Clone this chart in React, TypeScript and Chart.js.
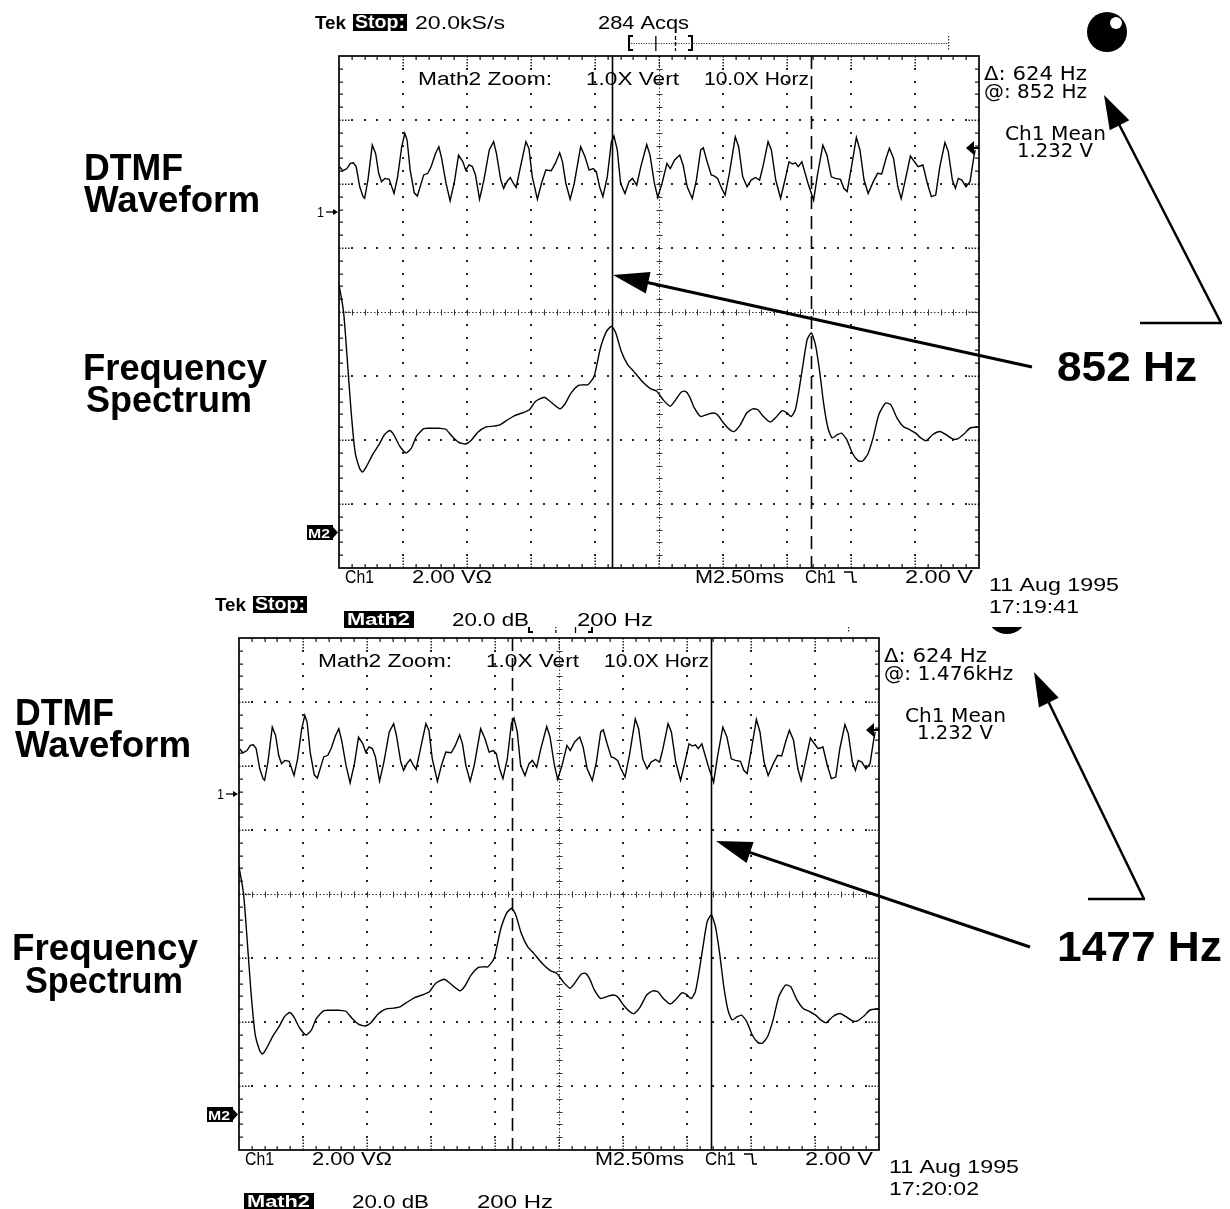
import React, { useEffect, useRef } from "react";
import { Chart, registerables } from "chart.js";

Chart.register(...registerables);

const PAGE_W = 1230;
const PAGE_H = 1209;
const SCREEN_W = 640;
const SCREEN_H = 512;

// Ch1 DTMF waveform: time in ms (2.50 ms/div), level in volts (2.00 V/div)
const waveTimeMs = [
  0.02, 0.15, 0.31, 0.44, 0.56, 0.67, 0.81, 0.94, 1.0, 1.13,
  1.3, 1.43, 1.55, 1.66, 1.79, 1.96, 2.15, 2.29, 2.45, 2.57,
  2.66, 2.78, 2.94, 3.06, 3.19, 3.31, 3.47, 3.6, 3.77, 3.9,
  4.01, 4.18, 4.34, 4.51, 4.67, 4.84, 4.95, 5.08, 5.21, 5.33,
  5.49, 5.66, 5.87, 6.04, 6.15, 6.32, 6.43, 6.56, 6.69, 6.81,
  6.92, 7.09, 7.3, 7.42, 7.55, 7.75, 7.91, 8.08, 8.29, 8.45,
  8.62, 8.73, 8.86, 9.03, 9.19, 9.44, 9.61, 9.77, 9.93, 10.05,
  10.18, 10.31, 10.48, 10.64, 10.74, 10.87, 11.0, 11.17, 11.33, 11.46,
  11.63, 11.79, 12.02, 12.15, 12.32, 12.45, 12.62, 12.81, 12.94, 13.11,
  13.31, 13.44, 13.6, 13.8, 13.96, 14.13, 14.23, 14.38, 14.54, 14.65,
  14.79, 14.92, 15.08, 15.25, 15.48, 15.61, 15.77, 15.94, 16.1, 16.27,
  16.43, 16.56, 16.76, 16.89, 17.06, 17.25, 17.42, 17.58, 17.71, 17.83,
  17.94, 18.08, 18.32, 18.54, 18.7, 18.9, 19.06, 19.23, 19.39, 19.59,
  19.72, 19.85, 20.02, 20.21, 20.35, 20.51, 20.67, 20.87, 21.04, 21.2,
  21.37, 21.5, 21.66, 21.83, 21.96, 22.12, 22.32, 22.48, 22.62, 22.81,
  22.98, 23.14, 23.31, 23.47, 23.67, 23.8, 23.96, 24.08, 24.19, 24.33,
  24.49, 24.65, 24.79, 24.85,
];
const waveVolts = [
  1.45, 1.32, 1.39, 1.55, 1.57, 1.45, 0.82, 0.51, 0.46, 1.03,
  2.12, 1.86, 1.24, 0.98, 1.08, 1.05, 0.61, 1.13, 2.07, 2.49,
  2.28, 1.34, 0.63, 0.53, 0.87, 1.19, 1.24, 1.45, 1.86, 2.07,
  1.71, 0.93, 0.38, 0.98, 1.81, 1.6, 1.34, 1.5, 1.45, 1.19,
  0.43, 1.03, 1.97, 2.23, 1.86, 1.03, 0.77, 0.98, 1.11, 0.93,
  0.8, 1.45, 2.23, 2.02, 1.13, 0.43, 0.93, 1.34, 1.32, 1.55,
  1.88, 1.6, 0.93, 0.43, 0.93, 2.07, 1.76, 1.34, 1.39, 1.29,
  0.82, 0.51, 1.13, 2.23, 2.4, 1.97, 0.93, 0.61, 0.98, 1.08,
  0.87, 1.45, 2.14, 1.81, 0.93, 0.49, 0.93, 1.55, 1.39, 1.66,
  1.81, 1.5, 0.82, 0.45, 1.03, 1.97, 2.04, 1.6, 1.19, 1.16,
  1.08, 0.82, 0.56, 1.24, 2.38, 2.07, 1.13, 0.82, 1.03, 1.11,
  1.03, 1.45, 2.23, 1.97, 1.03, 0.46, 1.03, 1.6, 1.53, 1.57,
  1.45, 1.6, 0.93, 0.4, 1.24, 2.12, 1.81, 1.13, 1.08, 1.05,
  0.77, 0.67, 1.45, 2.36, 1.97, 1.03, 0.61, 0.98, 1.24, 1.22,
  1.71, 2.02, 1.71, 0.82, 0.45, 1.03, 1.78, 1.6, 1.45, 1.5,
  0.93, 0.51, 0.56, 1.45, 2.2, 1.92, 1.03, 0.77, 1.08, 1.03,
  0.82, 0.98, 1.71, 1.97,
];

// Math2 FFT: frequency in Hz (200 Hz/div), magnitude in dB above the M2 marker (20 dB/div)
const specFreqHz = [
  0, 14, 24, 37, 50, 64, 73, 86, 105, 125,
  142, 158, 171, 190, 210, 226, 242, 265, 288, 314,
  334, 353, 373, 395, 412, 434, 458, 484, 503, 523,
  549, 573, 595, 614, 641, 660, 690, 706, 725, 748,
  765, 778, 797, 817, 836, 852, 865, 882, 902, 921,
  947, 973, 993, 1013, 1035, 1052, 1069, 1082, 1095, 1111,
  1130, 1150, 1169, 1182, 1202, 1221, 1234, 1254, 1274, 1293,
  1309, 1326, 1348, 1365, 1385, 1400, 1413, 1426, 1437, 1450,
  1463, 1476, 1489, 1502, 1515, 1528, 1541, 1557, 1570, 1587,
  1604, 1622, 1635, 1652, 1669, 1687, 1708, 1724, 1744, 1763,
  1783, 1802, 1818, 1835, 1855, 1878, 1897, 1917, 1933, 1953,
  1972, 2000,
];
const specDb = [
  77.3, 69.0, 56.5, 38.7, 25.2, 20.0, 18.7, 20.5, 24.2, 27.3,
  30.4, 31.7, 30.4, 26.8, 24.7, 26.2, 29.9, 32.3, 32.4, 32.4,
  32.1, 29.9, 28.1, 27.5, 28.5, 31.2, 32.8, 33.1, 33.5, 34.8,
  36.4, 37.2, 38.2, 40.8, 42.1, 40.8, 38.5, 40.0, 43.4, 45.8,
  46.0, 46.0, 48.6, 57.5, 62.7, 64.3, 62.2, 56.5, 52.3, 50.2,
  47.1, 44.8, 44.0, 41.3, 39.3, 41.3, 43.7, 44.0, 42.4, 38.7,
  36.1, 36.7, 37.2, 36.7, 34.0, 32.0, 31.4, 33.5, 37.2, 38.5,
  38.2, 36.1, 34.4, 35.8, 37.9, 37.2, 36.1, 38.2, 44.0, 52.3,
  60.1, 62.2, 58.5, 50.2, 39.8, 32.5, 29.4, 30.4, 30.9, 28.8,
  24.7, 22.3, 22.1, 24.2, 29.4, 36.7, 40.3, 39.8, 35.6, 33.0,
  32.0, 30.9, 29.4, 28.5, 30.4, 31.4, 30.4, 29.1, 29.1, 30.6,
  32.5, 32.9,
];

// cursor frequencies (Hz): 852 Hz row tone, 1476 Hz column tone
const cursorFreqsHz = [852, 1476];

// screen scales: 10 x 8 divisions
const timeSpanMs = 25; // 2.50 ms/div
const freqSpanHz = 2000; // 200 Hz/div
const voltsPerDiv = 2;
const dbPerDiv = 20;
const ch1GroundDiv = 5.547; // "1->" marker, divisions above bottom
const m2RefDiv = 0.5625; // "M2" marker, divisions above bottom

const TEK = '"Liberation Sans", Arial, sans-serif';
const READ = '"DejaVu Sans", "Liberation Sans", sans-serif';
const LABEL = '"Liberation Sans", Arial, Helvetica, sans-serif';

type Label = { text: string; x: number; y: number; w: number; size: number };
type Arrow = { from: [number, number]; to: [number, number]; hl: number; hw: number; lw: number };

type ScopeCfg = {
  left: number;
  top: number;
  solidHz: number;
  dashedHz: number;
  atText: string;
  atW: number;
  time: string;
  labels: Label[];
  arrows: Arrow[];
  lines: number[][];
  cover: boolean;
};

const topScope: ScopeCfg = {
  left: 339,
  top: 56,
  solidHz: cursorFreqsHz[0],
  dashedHz: cursorFreqsHz[1],
  atText: "@: 852 Hz",
  atW: 103,
  time: "17:19:41",
  labels: [
    { text: "DTMF", x: 84, y: 180, w: 99, size: 36 },
    { text: "Waveform", x: 84, y: 212, w: 176, size: 36 },
    { text: "Frequency", x: 83, y: 380, w: 184, size: 36 },
    { text: "Spectrum", x: 86, y: 412, w: 166, size: 36 },
    { text: "852 Hz", x: 1057, y: 381, w: 140, size: 43 },
  ],
  arrows: [
    { from: [1032, 367], to: [613, 275], hl: 36, hw: 22, lw: 3 },
    { from: [1221, 323], to: [1104, 95], hl: 34, hw: 22, lw: 2.5 },
  ],
  lines: [[1140, 323, 1222, 323]],
  cover: true,
};

const bottomScope: ScopeCfg = {
  left: 239,
  top: 638,
  solidHz: cursorFreqsHz[1],
  dashedHz: cursorFreqsHz[0],
  atText: "@: 1.476kHz",
  atW: 129,
  time: "17:20:02",
  labels: [
    { text: "DTMF", x: 15, y: 725, w: 99, size: 36 },
    { text: "Waveform", x: 15, y: 757, w: 176, size: 36 },
    { text: "Frequency", x: 12, y: 960, w: 186, size: 36 },
    { text: "Spectrum", x: 25, y: 993, w: 158, size: 36 },
    { text: "1477 Hz", x: 1057, y: 961, w: 165, size: 43 },
  ],
  arrows: [
    { from: [1030, 947], to: [716, 841], hl: 36, hw: 22, lw: 3 },
    { from: [1144, 899], to: [1034, 672], hl: 34, hw: 22, lw: 2.5 },
  ],
  lines: [[1088, 899, 1145, 899]],
  cover: false,
};

function fitText(
  ctx: CanvasRenderingContext2D,
  text: string,
  x: number,
  y: number,
  font: string,
  width?: number,
  color = "#000"
) {
  ctx.save();
  ctx.font = font;
  ctx.fillStyle = color;
  ctx.textAlign = "left";
  ctx.textBaseline = "alphabetic";
  const m = ctx.measureText(text).width;
  ctx.translate(x, y);
  if (width && m > 0) ctx.scale(width / m, 1);
  ctx.fillText(text, 0, 0);
  ctx.restore();
}

function drawArrow(ctx: CanvasRenderingContext2D, a: Arrow) {
  const [x1, y1] = a.from;
  const [x2, y2] = a.to;
  const ang = Math.atan2(y2 - y1, x2 - x1);
  const c = Math.cos(ang);
  const s = Math.sin(ang);
  const bx = x2 - a.hl * c;
  const by = y2 - a.hl * s;
  ctx.save();
  ctx.strokeStyle = "#000";
  ctx.fillStyle = "#000";
  ctx.lineWidth = a.lw;
  ctx.beginPath();
  ctx.moveTo(x1, y1);
  ctx.lineTo(bx + 2 * c, by + 2 * s);
  ctx.stroke();
  ctx.beginPath();
  ctx.moveTo(x2, y2);
  ctx.lineTo(bx + (a.hw / 2) * s, by - (a.hw / 2) * c);
  ctx.lineTo(bx - (a.hw / 2) * s, by + (a.hw / 2) * c);
  ctx.closePath();
  ctx.fill();
  ctx.restore();
}

function drawGraticule(ctx: CanvasRenderingContext2D, area: any) {
  const L = area.left, T = area.top, R = area.right, B = area.bottom;
  const dx = (R - L) / 10;
  const dy = (B - T) / 8;
  ctx.save();
  ctx.fillStyle = "#222";
  const dot = (x: number, y: number) => ctx.fillRect(Math.round(x) - 1, Math.round(y) - 1, 2, 2);
  for (let i = 1; i < 10; i++) {
    if (i === 5) continue;
    const x = L + i * dx;
    for (let j = 1; j < 40; j++) dot(x, T + (j * dy) / 5);
  }
  for (let k = 1; k < 8; k++) {
    if (k === 4) continue;
    const y = T + k * dy;
    for (let j = 1; j < 50; j++) dot(L + (j * dx) / 5, y);
  }
  // center lines
  const cx = Math.round(L + 5 * dx) + 0.5;
  const cy = Math.round(T + 4 * dy) + 0.5;
  ctx.strokeStyle = "#333";
  ctx.lineWidth = 1;
  ctx.setLineDash([1.5, 2]);
  ctx.beginPath();
  ctx.moveTo(cx, T);
  ctx.lineTo(cx, B);
  ctx.moveTo(L, cy);
  ctx.lineTo(R, cy);
  ctx.stroke();
  ctx.setLineDash([]);
  ctx.beginPath();
  for (let j = 1; j < 40; j++) {
    const y = Math.round(T + (j * dy) / 5) + 0.5;
    ctx.moveTo(cx - 3, y);
    ctx.lineTo(cx + 3, y);
  }
  for (let j = 1; j < 50; j++) {
    const x = Math.round(L + (j * dx) / 5) + 0.5;
    ctx.moveTo(x, cy - 3);
    ctx.lineTo(x, cy + 3);
  }
  ctx.stroke();
  // border ticks
  ctx.fillStyle = "#222";
  for (let j = 1; j < 50; j++) {
    const x = Math.round(L + (j * dx) / 5);
    if (j % 5 === 0) {
      for (let t = 0; t <= 9; t += 3) {
        ctx.fillRect(x - 0.5, T + t, 1.5, 1.5);
        ctx.fillRect(x - 0.5, B - t - 1.5, 1.5, 1.5);
      }
    } else {
      ctx.fillRect(x - 0.5, T, 1.3, 4);
      ctx.fillRect(x - 0.5, B - 4, 1.3, 4);
    }
  }
  for (let j = 1; j < 40; j++) {
    const y = Math.round(T + (j * dy) / 5);
    if (j % 5 === 0) {
      for (let t = 0; t <= 9; t += 3) {
        ctx.fillRect(L + t, y - 0.5, 1.5, 1.5);
        ctx.fillRect(R - t - 1.5, y - 0.5, 1.5, 1.5);
      }
    } else {
      ctx.fillRect(L, y - 0.5, 4, 1.3);
      ctx.fillRect(R - 4, y - 0.5, 4, 1.3);
    }
  }
  ctx.strokeStyle = "#000";
  ctx.lineWidth = 1.7;
  ctx.strokeRect(L, T, R - L, B - T);
  ctx.restore();
}

function drawAnnotations(ctx: CanvasRenderingContext2D, L: number, T: number, cfg: ScopeCfg) {
  const R = L + SCREEN_W;
  const B = T + SCREEN_H;
  ctx.save();
  ctx.fillStyle = "#000";
  ctx.strokeStyle = "#000";

  // header row
  fitText(ctx, "Tek", L - 24, T - 27, `bold 19px ${TEK}`, 31);
  ctx.fillStyle = "#000";
  ctx.fillRect(L + 14, T - 42, 54, 17);
  fitText(ctx, "Stop:", L + 16, T - 28, `bold 18px ${TEK}`, 50, "#fff");
  fitText(ctx, "20.0kS/s", L + 76, T - 27, `19px ${TEK}`, 90);
  fitText(ctx, "284 Acqs", L + 259, T - 27, `19px ${TEK}`, 91);

  // record view bracket
  const by0 = T - 20, by1 = T - 6, bym = T - 13;
  ctx.lineWidth = 2;
  ctx.beginPath();
  ctx.moveTo(L + 294, by0);
  ctx.lineTo(L + 290, by0);
  ctx.lineTo(L + 290, by1);
  ctx.lineTo(L + 294, by1);
  ctx.moveTo(L + 349, by0);
  ctx.lineTo(L + 353, by0);
  ctx.lineTo(L + 353, by1);
  ctx.lineTo(L + 349, by1);
  ctx.stroke();
  ctx.fillStyle = "#333";
  for (let x = L + 292; x < L + 609; x += 2.5) ctx.fillRect(x, bym, 1.2, 1);
  for (let y = by0; y <= by1; y += 3) ctx.fillRect(L + 609, y, 1.2, 1.5);
  const solidTick = L + 290 + (cfg.solidHz / freqSpanHz) * 63;
  const dashTick = L + 290 + (cfg.dashedHz / freqSpanHz) * 63;
  ctx.lineWidth = 1.3;
  ctx.beginPath();
  ctx.moveTo(solidTick, by0);
  ctx.lineTo(solidTick, by1 + 1);
  ctx.stroke();
  ctx.setLineDash([4, 2]);
  ctx.beginPath();
  ctx.moveTo(dashTick, by0);
  ctx.lineTo(dashTick, by1 + 1);
  ctx.stroke();
  ctx.setLineDash([]);

  // in-screen header
  fitText(ctx, "Math2 Zoom:", L + 79, T + 29, `18px ${TEK}`, 134);
  fitText(ctx, "1.0X Vert", L + 247, T + 29, `18px ${TEK}`, 93);
  fitText(ctx, "10.0X Horz", L + 365, T + 29, `18px ${TEK}`, 105);

  // right-hand readouts
  fitText(ctx, "\u0394: 624 Hz", L + 645, T + 24, `19px ${READ}`, 103);
  fitText(ctx, cfg.atText, L + 645, T + 42, `19px ${READ}`, cfg.atW);
  fitText(ctx, "Ch1 Mean", L + 666, T + 84, `19px ${READ}`, 101);
  fitText(ctx, "1.232 V", L + 678, T + 101, `19px ${READ}`, 76);

  // ball
  ctx.fillStyle = "#000";
  ctx.beginPath();
  ctx.arc(L + 768, T - 24, 20, 0, Math.PI * 2);
  ctx.fill();
  ctx.fillStyle = "#fff";
  ctx.beginPath();
  ctx.arc(L + 777, T - 33, 6, 0, Math.PI * 2);
  ctx.fill();
  ctx.fillStyle = "#000";

  // bottom readout row
  fitText(ctx, "Ch1", L + 6, T + 527, `18px ${TEK}`, 29);
  fitText(ctx, "2.00 V\u03A9", L + 73, T + 527, `18px ${TEK}`, 80);
  fitText(ctx, "M2.50ms", L + 356, T + 527, `18px ${TEK}`, 89);
  fitText(ctx, "Ch1", L + 466, T + 527, `18px ${TEK}`, 31);
  ctx.lineWidth = 1.6;
  ctx.beginPath();
  ctx.moveTo(L + 505, B + 4);
  ctx.lineTo(L + 513, B + 4);
  ctx.lineTo(L + 514, B + 14);
  ctx.lineTo(L + 518, B + 14);
  ctx.stroke();
  fitText(ctx, "2.00 V", L + 566, T + 527, `18px ${TEK}`, 68);

  // date / time
  fitText(ctx, "11 Aug 1995", L + 650, T + 535, `19px ${TEK}`, 130);
  fitText(ctx, cfg.time, L + 650, T + 557, `19px ${TEK}`, 90);

  // Math2 readout row
  ctx.fillStyle = "#000";
  ctx.fillRect(L + 5, T + 555, 70, 17);
  fitText(ctx, "Math2", L + 8, T + 569, `bold 17px ${TEK}`, 63, "#fff");
  fitText(ctx, "20.0 dB", L + 113, T + 570, `18px ${TEK}`, 77);
  fitText(ctx, "200 Hz", L + 238, T + 570, `18px ${TEK}`, 76);

  // Ch1 ground marker "1->"
  fitText(ctx, "1", L - 22, T + 161, `15px ${TEK}`, 7);
  ctx.lineWidth = 1.3;
  ctx.beginPath();
  ctx.moveTo(L - 13, T + 156);
  ctx.lineTo(L - 4, T + 156);
  ctx.stroke();
  ctx.beginPath();
  ctx.moveTo(L - 1, T + 156);
  ctx.lineTo(L - 6, T + 153);
  ctx.lineTo(L - 6, T + 159);
  ctx.closePath();
  ctx.fill();

  // M2 marker
  ctx.fillRect(L - 32, T + 469, 26, 15);
  fitText(ctx, "M2", L - 31, T + 482, `bold 13px ${TEK}`, 22, "#fff");
  ctx.fillStyle = "#000";
  ctx.beginPath();
  ctx.moveTo(L - 6, T + 471);
  ctx.lineTo(L - 1, T + 476.5);
  ctx.lineTo(L - 6, T + 482);
  ctx.closePath();
  ctx.fill();

  // Ch1 level marker on right edge
  ctx.beginPath();
  ctx.moveTo(R - 13, T + 92);
  ctx.lineTo(R - 5, T + 85);
  ctx.lineTo(R - 5, T + 99);
  ctx.closePath();
  ctx.fill();
  ctx.lineWidth = 2;
  ctx.beginPath();
  ctx.moveTo(R - 6, T + 92);
  ctx.lineTo(R, T + 92);
  ctx.stroke();

  ctx.restore();
}

function drawCallouts(ctx: CanvasRenderingContext2D, cfg: ScopeCfg) {
  for (const lb of cfg.labels) {
    fitText(ctx, lb.text, lb.x, lb.y, `bold ${lb.size}px ${LABEL}`, lb.w);
  }
  ctx.save();
  ctx.strokeStyle = "#000";
  ctx.lineWidth = 2.5;
  for (const ln of cfg.lines) {
    ctx.beginPath();
    ctx.moveTo(ln[0], ln[1]);
    ctx.lineTo(ln[2], ln[3]);
    ctx.stroke();
  }
  ctx.restore();
  for (const a of cfg.arrows) drawArrow(ctx, a);
}

function ScopeCanvas({ cfg }: { cfg: ScopeCfg }) {
  const ref = useRef<HTMLCanvasElement>(null);
  useEffect(() => {
    const canvas = ref.current;
    if (!canvas) return;
    const n = Math.min(waveTimeMs.length, waveVolts.length);
    const wave = [];
    for (let i = 0; i < n; i++) wave.push({ x: waveTimeMs[i], y: waveVolts[i] });
    const m = Math.min(specFreqHz.length, specDb.length);
    const spec = [];
    for (let i = 0; i < m; i++) spec.push({ x: specFreqHz[i], y: specDb[i] });

    const scopePlugin = {
      id: "scope",
      beforeDraw(chart: any) {
        if (!cfg.cover) return;
        const ctx = chart.ctx as CanvasRenderingContext2D;
        ctx.save();
        ctx.fillStyle = "#fff";
        ctx.fillRect(312, 0, PAGE_W - 312, 627);
        ctx.restore();
      },
      beforeDatasetsDraw(chart: any) {
        drawGraticule(chart.ctx, chart.chartArea);
      },
      afterDatasetsDraw(chart: any) {
        const ctx = chart.ctx as CanvasRenderingContext2D;
        const area = chart.chartArea;
        const xs = chart.scales.xf;
        ctx.save();
        ctx.strokeStyle = "#000";
        ctx.lineWidth = 1.6;
        const xsld = Math.round(xs.getPixelForValue(cfg.solidHz)) + 0.5;
        ctx.beginPath();
        ctx.moveTo(xsld, area.top);
        ctx.lineTo(xsld, area.bottom);
        ctx.stroke();
        const xd = Math.round(xs.getPixelForValue(cfg.dashedHz)) + 0.5;
        ctx.setLineDash([13, 7]);
        ctx.beginPath();
        ctx.moveTo(xd, area.top);
        ctx.lineTo(xd, area.bottom);
        ctx.stroke();
        ctx.restore();
      },
      afterDraw(chart: any) {
        const ctx = chart.ctx as CanvasRenderingContext2D;
        drawAnnotations(ctx, chart.chartArea.left, chart.chartArea.top, cfg);
        drawCallouts(ctx, cfg);
      },
    };

    const chart = new Chart(canvas, {
      type: "line",
      data: {
        datasets: [
          {
            label: "Ch1",
            data: wave,
            xAxisID: "xt",
            yAxisID: "yv",
            borderColor: "#000",
            borderWidth: 1.4,
            pointRadius: 0,
            tension: 0,
            fill: false,
          },
          {
            label: "Math2",
            data: spec,
            xAxisID: "xf",
            yAxisID: "ydb",
            borderColor: "#000",
            borderWidth: 1.4,
            pointRadius: 0,
            tension: 0.2,
            fill: false,
          },
        ],
      },
      options: {
        responsive: false,
        animation: false,
        events: [],
        layout: {
          padding: {
            left: cfg.left,
            top: cfg.top,
            right: PAGE_W - cfg.left - SCREEN_W,
            bottom: PAGE_H - cfg.top - SCREEN_H,
          },
        },
        plugins: {
          legend: { display: false },
          tooltip: { enabled: false },
          title: { display: false },
        },
        scales: {
          xt: { type: "linear", axis: "x", min: 0, max: timeSpanMs, display: false },
          xf: { type: "linear", axis: "x", min: 0, max: freqSpanHz, display: false },
          yv: {
            type: "linear",
            axis: "y",
            min: -ch1GroundDiv * voltsPerDiv,
            max: (8 - ch1GroundDiv) * voltsPerDiv,
            display: false,
          },
          ydb: {
            type: "linear",
            axis: "y",
            min: -m2RefDiv * dbPerDiv,
            max: (8 - m2RefDiv) * dbPerDiv,
            display: false,
          },
        },
      } as any,
      plugins: [scopePlugin],
    });
    return () => chart.destroy();
  }, [cfg]);
  return (
    <canvas
      ref={ref}
      width={PAGE_W}
      height={PAGE_H}
      style={{ position: "absolute", left: 0, top: 0, width: PAGE_W, height: PAGE_H }}
    />
  );
}

export default function App() {
  return (
    <div
      style={{
        position: "absolute",
        left: 0,
        top: 0,
        width: PAGE_W,
        height: PAGE_H,
        background: "#fff",
        overflow: "hidden",
      }}
    >
      <ScopeCanvas cfg={bottomScope} />
      <ScopeCanvas cfg={topScope} />
    </div>
  );
}
